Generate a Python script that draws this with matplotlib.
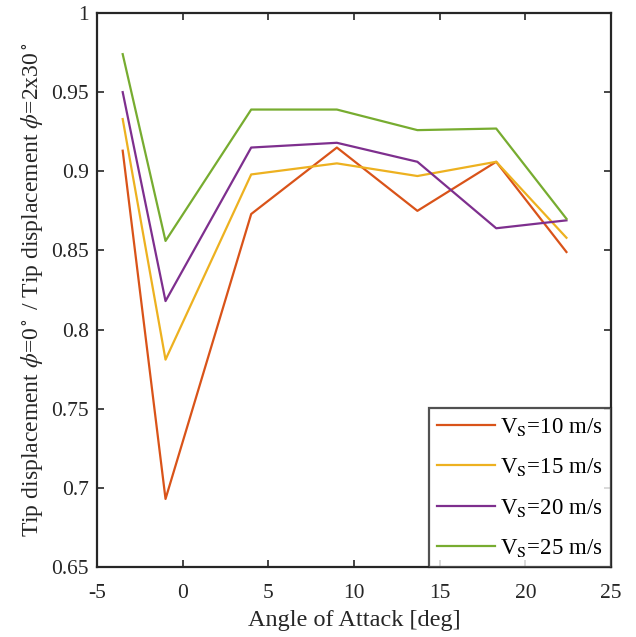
import matplotlib
matplotlib.use("Agg")
import matplotlib.pyplot as plt
from matplotlib.ticker import FuncFormatter

plt.rcParams["font.family"] = ["Liberation Serif", "DejaVu Serif"]
plt.rcParams["mathtext.fontset"] = "stix"

# angle of attack [deg]
aoa = [-3.5, -1.0, 4.0, 9.0, 13.7, 18.3, 22.4]

ratio_10 = [0.913, 0.693, 0.873, 0.915, 0.875, 0.906, 0.849]
ratio_15 = [0.933, 0.781, 0.898, 0.905, 0.897, 0.906, 0.858]
ratio_20 = [0.950, 0.818, 0.915, 0.918, 0.906, 0.864, 0.869]
ratio_25 = [0.974, 0.856, 0.939, 0.939, 0.926, 0.927, 0.870]

speeds = [10, 15, 20, 25]
series = [ratio_10, ratio_15, ratio_20, ratio_25]
colors = ["#D95319", "#EDB120", "#7E2F8E", "#77AC30"]

x_ticks = [-5, 0, 5, 10, 15, 20, 25]
y_ticks = [0.65, 0.7, 0.75, 0.8, 0.85, 0.9, 0.95, 1.0]

fig = plt.figure(figsize=(6.36, 6.37), dpi=100)
ax = fig.add_axes([0.1525, 0.1099, 0.8082, 0.8697])

for speed, vals, col in zip(speeds, series, colors):
    ax.plot(aoa, vals, color=col, linewidth=1.6,
            label=r"V$_{\mathrm{S}}$=%d m/s" % speed)

ax.set_xlim(-5, 25)
ax.set_ylim(0.65, 1.0)
ax.set_xticks(x_ticks)
ax.set_yticks(y_ticks)
ax.xaxis.set_major_formatter(FuncFormatter(lambda v, p: "%g" % v))
ax.yaxis.set_major_formatter(FuncFormatter(lambda v, p: "%g" % round(v, 2)))
ax.tick_params(direction="in", top=True, right=True, length=4.8, width=1.2,
               labelsize=15.5, colors="#262626")
ax.tick_params(axis="x", pad=12)
ax.tick_params(axis="y", pad=6)
for sp in ax.spines.values():
    sp.set_linewidth(1.6)
    sp.set_color("#262626")

ax.set_xlabel("Angle of Attack [deg]", fontsize=17.5, color="#262626", labelpad=5)
ax.set_ylabel(r"Tip displacement $\phi$=0$^\circ$ / Tip displacement $\phi$=2x30$^\circ$",
              fontsize=17, color="#262626", labelpad=4)

leg = ax.legend(loc="lower right", fontsize=16.5, frameon=True, fancybox=False,
                borderaxespad=0, handlelength=2.5, handletextpad=0.25,
                labelspacing=0.8, borderpad=0.35)
leg.get_frame().set_edgecolor("#262626")
leg.get_frame().set_linewidth(1.6)

fig.savefig("out.png", dpi=100)
